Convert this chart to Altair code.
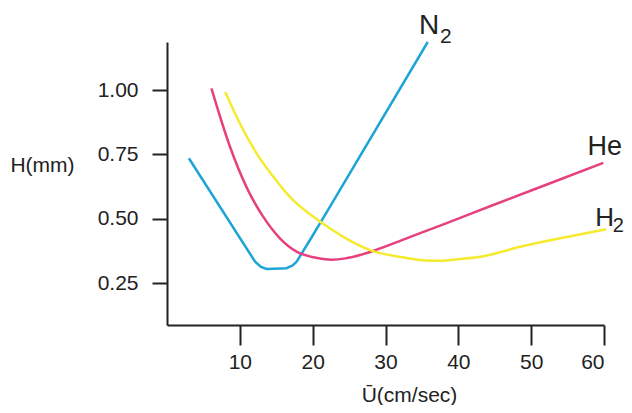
import altair as alt
import pandas as pd

# Curves (x: linear velocity cm/sec, y: H in mm)
n2_x = [3.0, 12.1, 12.9, 13.7, 16.4, 17.2, 17.8, 19.9, 22.4, 35.8]
n2_y = [0.735, 0.333, 0.313, 0.305, 0.308, 0.318, 0.333, 0.430, 0.548, 1.187]

he_x = [6.1, 8.65, 10.9, 13.2, 15.5, 17.8, 20.1, 22.6, 24.5, 26.5, 28.3, 32.9, 37.5, 42.0, 47.0, 52.6, 59.9]
he_y = [1.007, 0.780, 0.624, 0.508, 0.424, 0.372, 0.350, 0.341, 0.346, 0.359, 0.375, 0.424, 0.473, 0.523, 0.577, 0.638, 0.717]

h2_x = [8.0, 10.0, 12.3, 14.6, 17.3, 20.1, 22.4, 24.5, 27.9, 32.4, 35.5, 37.5, 40.0, 43.0, 48.5, 54.0, 60.3]
h2_y = [0.993, 0.871, 0.754, 0.663, 0.572, 0.508, 0.462, 0.425, 0.378, 0.350, 0.338, 0.337, 0.343, 0.352, 0.391, 0.424, 0.459]

series_names = ["N2", "He", "H2"]
series_colors = ["#1ea4d6", "#e6407e", "#f6ea2e"]
series_interp = {"N2": "linear", "He": "monotone", "H2": "monotone"}

# Curve labels (main letters + subscripts)
lab_text = ["N", "2", "He", "H", "2"]
lab_x = [36.0, 38.3, 60.1, 60.1, 61.95]
lab_y = [1.249, 1.206, 0.778, 0.503, 0.470]
lab_size = [28, 21, 27, 26, 20]

x_ticks = [10, 20, 30, 40, 50, 60]
y_ticks = [0.25, 0.50, 0.75, 1.00]

FONT = "Liberation Sans"
INK = "#222222"

xscale = alt.Scale(domain=[0, 60], nice=False, zero=False)
yscale = alt.Scale(domain=[0.087, 1.187], nice=False, zero=False)

xaxis = alt.Axis(values=x_ticks, title="Ū(cm/sec)", tickSize=20, labelPadding=6,
                 titleX=242, titleY=70, titleBaseline="middle", titleAlign="center")
yaxis = alt.Axis(values=y_ticks, format=".2f", title="H(mm)", tickSize=15, labelPadding=14,
                 titleAngle=0, titleX=-125, titleY=123, titleAlign="center",
                 titleBaseline="middle")

layers = []
for name, xs, ys, col in [("N2", n2_x, n2_y, series_colors[0]),
                          ("He", he_x, he_y, series_colors[1]),
                          ("H2", h2_x, h2_y, series_colors[2])]:
    d = pd.DataFrame({"u": xs, "h": ys, "order": list(range(len(xs)))})
    layers.append(
        alt.Chart(d).mark_line(strokeWidth=2.5, interpolate=series_interp[name], color=col).encode(
            x=alt.X("u:Q", scale=xscale, axis=xaxis),
            y=alt.Y("h:Q", scale=yscale, axis=yaxis),
            order="order:Q",
        )
    )

labels = pd.DataFrame({"t": lab_text, "u": lab_x, "h": lab_y, "fs": lab_size})
texts = alt.Chart(labels).mark_text(font=FONT, color=INK, align="center", baseline="middle").encode(
    x=alt.X("u:Q", scale=xscale),
    y=alt.Y("h:Q", scale=yscale),
    text="t:N",
    size=alt.Size("fs:Q", scale=None, legend=None),
)
layers.append(texts)

chart = alt.layer(*layers).properties(
    width=437, height=283,
    autosize=alt.AutoSizeParams(type="none"),
    padding={"left": 159, "top": 34, "right": 20, "bottom": 80},
).configure_view(stroke=None).configure_axis(
    grid=False, domainColor=INK, domainWidth=2, tickColor=INK, tickWidth=2,
    labelFont=FONT, labelFontSize=21, labelColor=INK,
    titleFont=FONT, titleFontSize=21, titleFontWeight="normal", titleColor=INK,
)

chart.save("out.html", embed_options={"renderer": "svg", "actions": False})
